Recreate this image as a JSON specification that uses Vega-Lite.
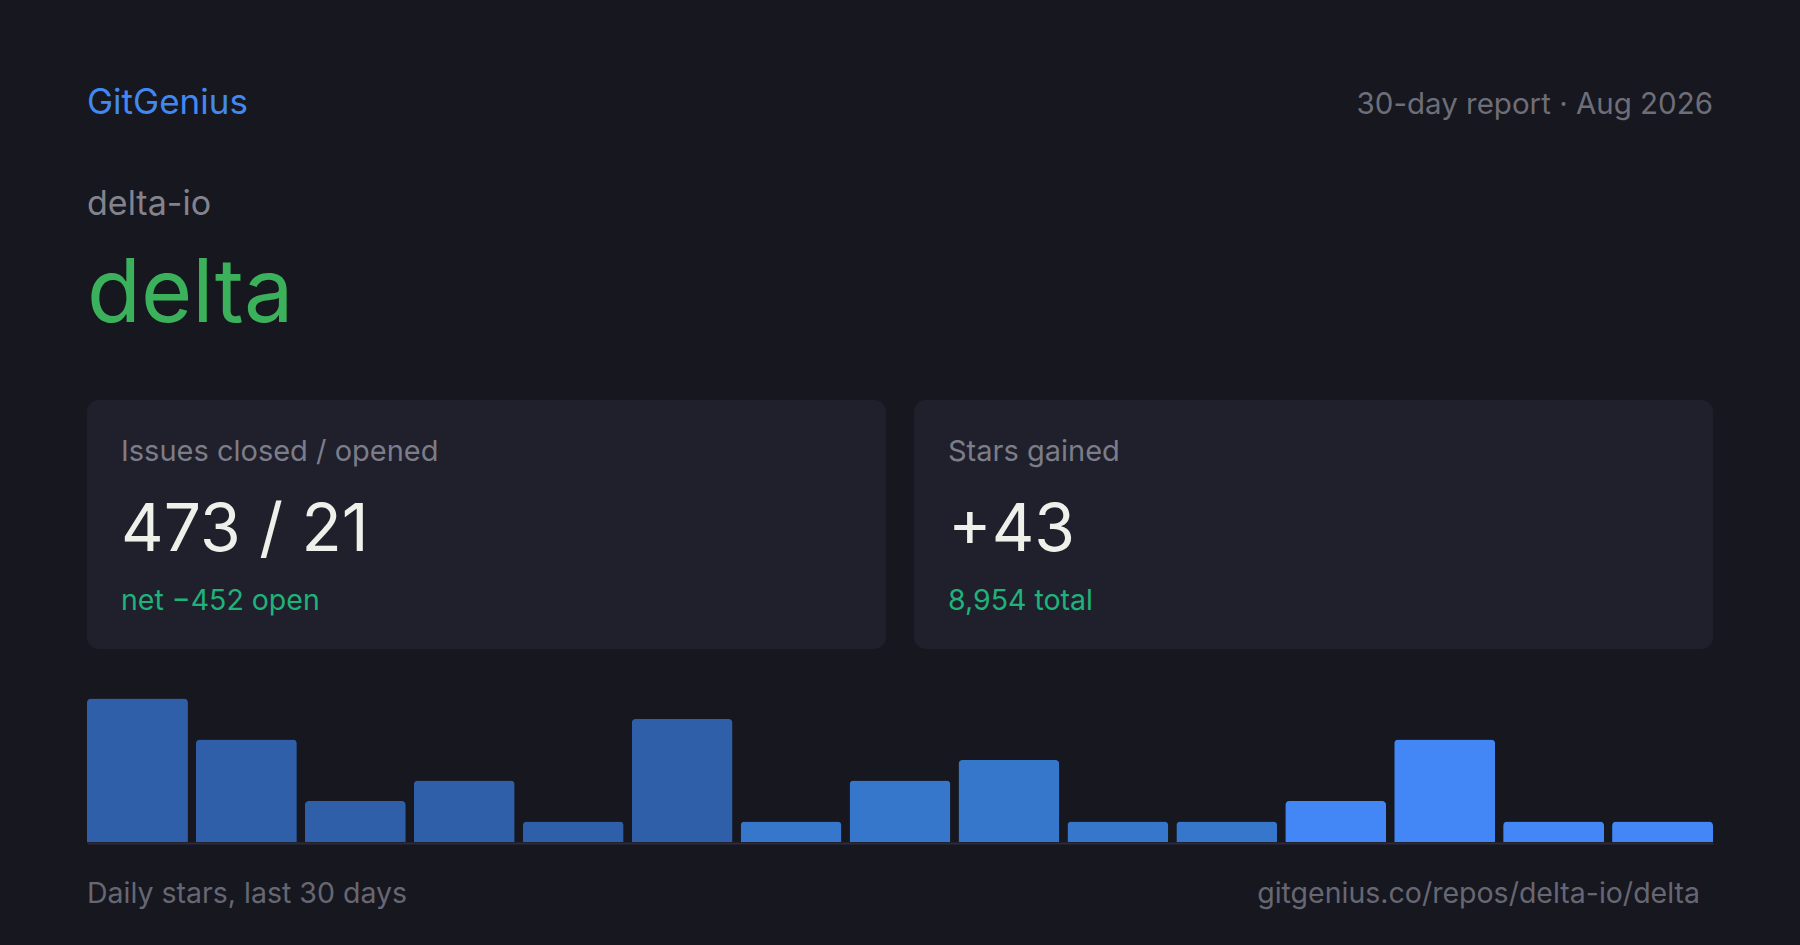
{
  "$schema": "https://vega.github.io/schema/vega-lite/v6.json",
  "width": 1800,
  "height": 945,
  "autosize": {"type": "none"},
  "padding": 0,
  "background": "#16171f",
  "config": {"view": {"stroke": null}, "font": "Inter", "text": {"font": "Inter"}},
  "datasets": {
    "header": [
      {"kind": "brand", "text": "GitGenius"},
      {"kind": "period", "text": "30-day report · Aug 2026"},
      {"kind": "owner", "text": "delta-io"},
      {"kind": "repo", "text": "delta"}
    ],
    "cards": [
      {"card": "issues", "label": "Issues closed / opened", "value": "473 / 21", "note": "net −452 open"},
      {"card": "stars", "label": "Stars gained", "value": "+43", "note": "8,954 total"}
    ],
    "stars": [
      {"bin": 1, "stars": 7}, {"bin": 2, "stars": 5}, {"bin": 3, "stars": 2},
      {"bin": 4, "stars": 3}, {"bin": 5, "stars": 1}, {"bin": 6, "stars": 6},
      {"bin": 7, "stars": 1}, {"bin": 8, "stars": 3}, {"bin": 9, "stars": 4},
      {"bin": 10, "stars": 1}, {"bin": 11, "stars": 1}, {"bin": 12, "stars": 2},
      {"bin": 13, "stars": 5}, {"bin": 14, "stars": 1}, {"bin": 15, "stars": 1}
    ],
    "footer": [
      {"kind": "caption", "text": "Daily stars, last 30 days"},
      {"kind": "link", "text": "gitgenius.co/repos/delta-io/delta"}
    ]
  },
  "layer": [
    {
      "data": {"name": "cards"},
      "mark": {"type": "rect", "cornerRadius": 12, "color": "#1f202b"},
      "encoding": {
        "x": {"field": "card", "type": "nominal", "scale": {"type": "band", "domain": ["issues", "stars"], "range": [87, 1713], "paddingInner": 0.03386, "paddingOuter": 0}, "axis": null},
        "y": {"datum": "summary", "type": "nominal", "scale": {"type": "band", "domain": ["summary"], "range": [400, 649], "paddingInner": 0, "paddingOuter": 0}, "axis": null}
      }
    },
    {
      "data": {"name": "cards"},
      "encoding": {
        "x": {"field": "card", "type": "nominal", "scale": {"type": "point", "domain": ["issues", "stars"], "range": [121, 948], "padding": 0}, "axis": null}
      },
      "layer": [
        {
          "mark": {"type": "text", "align": "left", "baseline": "middle", "fontSize": 29, "color": "#7c7d89"},
          "encoding": {
            "text": {"field": "label"},
            "y": {"datum": "label", "type": "nominal", "scale": {"type": "point", "domain": ["label", "value", "note"], "range": [452, 610], "padding": 0}, "axis": null}
          }
        },
        {
          "mark": {"type": "text", "align": "left", "baseline": "middle", "fontSize": 66, "color": "#f0f0eb"},
          "encoding": {
            "text": {"field": "value"},
            "y": {"datum": "value", "type": "nominal", "scale": {"type": "point", "domain": ["label", "value", "note"], "range": [452, 610], "padding": 0}, "axis": null}
          }
        },
        {
          "mark": {"type": "text", "align": "left", "baseline": "alphabetic", "fontSize": 28.5, "color": "#1fb27a"},
          "encoding": {
            "text": {"field": "note"},
            "y": {"datum": "note", "type": "nominal", "scale": {"type": "point", "domain": ["label", "value", "note"], "range": [452, 610], "padding": 0}, "axis": null}
          }
        }
      ]
    },
    {
      "data": {"name": "header"},
      "layer": [
        {
          "transform": [{"filter": "datum.kind === 'brand'"}],
          "mark": {"type": "text", "align": "left", "baseline": "alphabetic", "fontSize": 35, "color": "#4189f0"},
          "encoding": {
            "text": {"field": "text"},
            "x": {"datum": "start", "type": "nominal", "scale": {"type": "point", "domain": ["start", "end"], "range": [87, 1713], "padding": 0}, "axis": null},
            "y": {"datum": "brand", "type": "nominal", "scale": {"type": "point", "domain": ["brand", "owner", "repo"], "range": [114, 296], "padding": 0}, "axis": null}
          }
        },
        {
          "transform": [{"filter": "datum.kind === 'period'"}],
          "mark": {"type": "text", "align": "right", "baseline": "alphabetic", "fontSize": 29.5, "color": "#6e6e79"},
          "encoding": {
            "text": {"field": "text"},
            "x": {"datum": "end", "type": "nominal", "scale": {"type": "point", "domain": ["start", "end"], "range": [87, 1713], "padding": 0}, "axis": null},
            "y": {"datum": "brand", "type": "nominal", "scale": {"type": "point", "domain": ["brand", "owner", "repo"], "range": [114, 296], "padding": 0}, "axis": null}
          }
        },
        {
          "transform": [{"filter": "datum.kind === 'owner'"}],
          "mark": {"type": "text", "align": "left", "baseline": "middle", "fontSize": 34, "color": "#83838d"},
          "encoding": {
            "text": {"field": "text"},
            "x": {"datum": "start", "type": "nominal", "scale": {"type": "point", "domain": ["start", "end"], "range": [87, 1713], "padding": 0}, "axis": null},
            "y": {"datum": "owner", "type": "nominal", "scale": {"type": "point", "domain": ["brand", "owner", "repo"], "range": [114, 296], "padding": 0}, "axis": null}
          }
        },
        {
          "transform": [{"filter": "datum.kind === 'repo'"}],
          "mark": {"type": "text", "align": "left", "baseline": "middle", "fontSize": 88, "color": "#3cb15b"},
          "encoding": {
            "text": {"field": "text"},
            "x": {"datum": "start", "type": "nominal", "scale": {"type": "point", "domain": ["start", "end"], "range": [87, 1713], "padding": 0}, "axis": null},
            "y": {"datum": "repo", "type": "nominal", "scale": {"type": "point", "domain": ["brand", "owner", "repo"], "range": [114, 296], "padding": 0}, "axis": null}
          }
        }
      ]
    },
    {
      "data": {"name": "stars"},
      "mark": {"type": "bar", "cornerRadiusTopLeft": 4, "cornerRadiusTopRight": 4},
      "encoding": {
        "x": {
          "field": "bin", "type": "ordinal",
          "scale": {"type": "band", "range": [87, 1713], "paddingInner": 0.0735, "paddingOuter": 0},
          "axis": {"orient": "bottom", "offset": -102, "labels": false, "ticks": false, "grid": false, "title": null, "domainColor": "#2b2c3a", "domainWidth": 2}
        },
        "y": {"field": "stars", "type": "quantitative", "scale": {"domain": [0, 7], "range": [842, 698.5], "nice": false, "zero": true}, "axis": null},
        "color": {"field": "bin", "type": "quantitative", "scale": {"type": "threshold", "domain": [7, 12], "range": ["#2e5fa8", "#3677cc", "#4287f5"]}, "legend": null}
      }
    },
    {
      "data": {"name": "footer"},
      "layer": [
        {
          "transform": [{"filter": "datum.kind === 'caption'"}],
          "mark": {"type": "text", "align": "left", "baseline": "alphabetic", "fontSize": 28.5, "color": "#666773"},
          "encoding": {
            "text": {"field": "text"},
            "x": {"field": "kind", "type": "nominal", "scale": {"type": "point", "domain": ["caption", "link"], "range": [87, 1700], "padding": 0}, "axis": null},
            "y": {"datum": "footer", "type": "nominal", "scale": {"type": "point", "domain": ["baseline", "footer"], "range": [843, 903], "padding": 0}, "axis": null}
          }
        },
        {
          "transform": [{"filter": "datum.kind === 'link'"}],
          "mark": {"type": "text", "align": "right", "baseline": "alphabetic", "fontSize": 28.5, "color": "#666773"},
          "encoding": {
            "text": {"field": "text"},
            "x": {"field": "kind", "type": "nominal", "scale": {"type": "point", "domain": ["caption", "link"], "range": [87, 1700], "padding": 0}, "axis": null},
            "y": {"datum": "footer", "type": "nominal", "scale": {"type": "point", "domain": ["baseline", "footer"], "range": [843, 903], "padding": 0}, "axis": null}
          }
        }
      ]
    }
  ],
  "resolve": {
    "scale": {"x": "independent", "y": "independent", "color": "independent"},
    "axis": {"x": "independent", "y": "independent"}
  }
}
